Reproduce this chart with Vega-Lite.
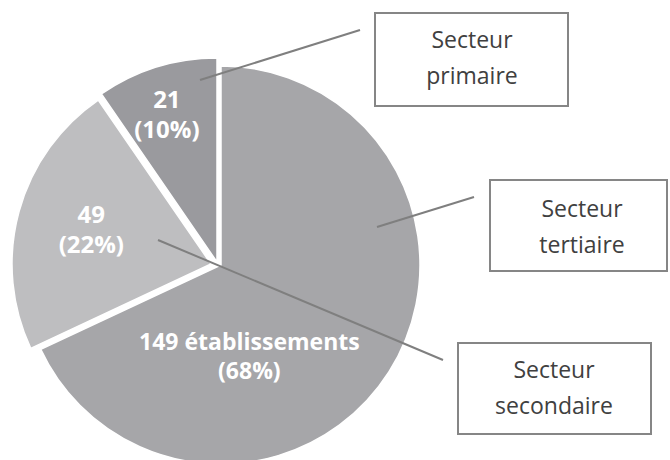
{
  "$schema": "https://vega.github.io/schema/vega-lite/v6.json",
  "width": 670,
  "height": 460,
  "autosize": {"type": "none"},
  "padding": 0,
  "background": "white",
  "config": {"view": {"stroke": null}},
  "datasets": {
    "sectors": [
      {"sector": "Secteur tertiaire", "count": 149, "label": "149 établissements\n(68%)"},
      {"sector": "Secteur secondaire", "count": 49, "label": "49\n(22%)"},
      {"sector": "Secteur primaire", "count": 21, "label": "21\n(10%)"}
    ],
    "callouts": [
      {"sector": "Secteur primaire", "text": "Secteur\nprimaire", "bx1": 375, "bx2": 568, "by1": 13, "by2": 106, "tx": 472, "ty": 48, "lx1": 200, "ly1": 80, "lx2": 360, "ly2": 30},
      {"sector": "Secteur tertiaire", "text": "Secteur\ntertiaire", "bx1": 490, "bx2": 667, "by1": 180, "by2": 271, "tx": 582, "ty": 217, "lx1": 377, "ly1": 227, "lx2": 474, "ly2": 197},
      {"sector": "Secteur secondaire", "text": "Secteur\nsecondaire", "bx1": 458, "bx2": 651, "by1": 343, "by2": 434, "tx": 554, "ty": 378, "lx1": 158, "ly1": 240, "lx2": 443, "ly2": 360}
    ]
  },
  "layer": [
    {
      "data": {"name": "sectors"},
      "mark": {"type": "arc", "outerRadius": 199, "stroke": "white", "strokeWidth": 1.5},
      "encoding": {
        "theta": {"field": "count", "type": "quantitative", "stack": true},
        "order": {"field": "count", "sort": "descending"},
        "color": {"field": "sector", "type": "nominal", "legend": null,
          "scale": {"domain": ["Secteur tertiaire", "Secteur secondaire", "Secteur primaire"], "range": ["#a6a6a9", "#bebec0", "#9a9a9e"]}},
        "x": {"datum": 221, "type": "quantitative", "scale": {"domain": [0, 670], "nice": false, "zero": false}, "axis": null},
        "y": {"datum": 265, "type": "quantitative", "scale": {"domain": [0, 460], "nice": false, "zero": false, "reverse": true}, "axis": null},
        "opacity": {"condition": {"test": "datum.sector === 'Secteur tertiaire'", "value": 1}, "value": 0}
      }
    },
    {
      "data": {"name": "sectors"},
      "mark": {"type": "arc", "outerRadius": 199, "stroke": "white", "strokeWidth": 1.5, "xOffset": -10, "yOffset": -1},
      "encoding": {
        "theta": {"field": "count", "type": "quantitative", "stack": true},
        "order": {"field": "count", "sort": "descending"},
        "color": {"field": "sector", "type": "nominal", "legend": null},
        "x": {"datum": 221, "type": "quantitative", "axis": null},
        "y": {"datum": 265, "type": "quantitative", "axis": null},
        "opacity": {"condition": {"test": "datum.sector === 'Secteur secondaire'", "value": 1}, "value": 0}
      }
    },
    {
      "data": {"name": "sectors"},
      "mark": {"type": "arc", "outerRadius": 204, "stroke": "white", "strokeWidth": 1.5, "xOffset": -4, "yOffset": -3},
      "encoding": {
        "theta": {"field": "count", "type": "quantitative", "stack": true},
        "order": {"field": "count", "sort": "descending"},
        "color": {"field": "sector", "type": "nominal", "legend": null},
        "x": {"datum": 221, "type": "quantitative", "axis": null},
        "y": {"datum": 265, "type": "quantitative", "axis": null},
        "opacity": {"condition": {"test": "datum.sector === 'Secteur primaire'", "value": 1}, "value": 0}
      }
    },
    {
      "data": {"name": "sectors"},
      "mark": {"type": "text", "radius": 100, "dx": -56, "dy": 24, "font": "Open Sans", "fontWeight": "bold", "fontSize": 23, "fill": "white", "lineBreak": "\n", "lineHeight": 29, "baseline": "middle", "align": "center"},
      "encoding": {
        "theta": {"field": "count", "type": "quantitative", "stack": true},
        "order": {"field": "count", "sort": "descending"},
        "detail": {"field": "sector", "type": "nominal"},
        "x": {"datum": 221, "type": "quantitative", "axis": null},
        "y": {"datum": 265, "type": "quantitative", "axis": null},
        "text": {"field": "label"},
        "opacity": {"condition": {"test": "datum.sector === 'Secteur tertiaire'", "value": 1}, "value": 0}
      }
    },
    {
      "data": {"name": "sectors"},
      "mark": {"type": "text", "radius": 124, "dy": -15, "xOffset": -10, "yOffset": -1, "font": "Open Sans", "fontWeight": "bold", "fontSize": 24, "fill": "white", "lineBreak": "\n", "lineHeight": 30, "baseline": "middle", "align": "center"},
      "encoding": {
        "theta": {"field": "count", "type": "quantitative", "stack": true},
        "order": {"field": "count", "sort": "descending"},
        "detail": {"field": "sector", "type": "nominal"},
        "x": {"datum": 221, "type": "quantitative", "axis": null},
        "y": {"datum": 265, "type": "quantitative", "axis": null},
        "text": {"field": "label"},
        "opacity": {"condition": {"test": "datum.sector === 'Secteur secondaire'", "value": 1}, "value": 0}
      }
    },
    {
      "data": {"name": "sectors"},
      "mark": {"type": "text", "radius": 169, "xOffset": -4, "yOffset": -3, "font": "Open Sans", "fontWeight": "bold", "fontSize": 24, "fill": "white", "lineBreak": "\n", "lineHeight": 30, "baseline": "middle", "align": "center"},
      "encoding": {
        "theta": {"field": "count", "type": "quantitative", "stack": true},
        "order": {"field": "count", "sort": "descending"},
        "detail": {"field": "sector", "type": "nominal"},
        "x": {"datum": 221, "type": "quantitative", "axis": null},
        "y": {"datum": 265, "type": "quantitative", "axis": null},
        "text": {"field": "label"},
        "opacity": {"condition": {"test": "datum.sector === 'Secteur primaire'", "value": 1}, "value": 0}
      }
    },
    {
      "data": {"name": "callouts"},
      "mark": {"type": "rule", "color": "#7f7f7f", "strokeWidth": 2},
      "encoding": {
        "x": {"field": "lx1", "type": "quantitative", "axis": null},
        "y": {"field": "ly1", "type": "quantitative", "axis": null},
        "x2": {"field": "lx2"},
        "y2": {"field": "ly2"}
      }
    },
    {
      "data": {"name": "callouts"},
      "mark": {"type": "rect", "fill": "white", "stroke": "#868686", "strokeWidth": 2},
      "encoding": {
        "x": {"field": "bx1", "type": "quantitative", "axis": null},
        "y": {"field": "by1", "type": "quantitative", "axis": null},
        "x2": {"field": "bx2"},
        "y2": {"field": "by2"}
      }
    },
    {
      "data": {"name": "callouts"},
      "mark": {"type": "text", "font": "Open Sans", "fontSize": 23, "fill": "#404040", "lineBreak": "\n", "lineHeight": 36, "baseline": "alphabetic", "align": "center"},
      "encoding": {
        "x": {"field": "tx", "type": "quantitative", "axis": null},
        "y": {"field": "ty", "type": "quantitative", "axis": null},
        "text": {"field": "text"}
      }
    }
  ]
}
